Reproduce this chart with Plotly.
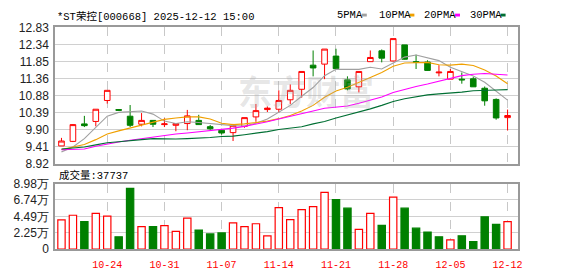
import plotly.graph_objects as go

# ---------------- data ----------------
dates = ["10-20", "10-21", "10-22", "10-23", "10-24", "10-27", "10-28", "10-29", "10-30", "10-31",
         "11-03", "11-04", "11-05", "11-06", "11-07", "11-10", "11-11", "11-12", "11-13", "11-14",
         "11-17", "11-18", "11-19", "11-20", "11-21", "11-24", "11-25", "11-26", "11-27", "11-28",
         "12-01", "12-02", "12-03", "12-04", "12-05", "12-08", "12-09", "12-10", "12-11", "12-12"]
tick_labels = ["10-24", "10-31", "11-07", "11-14", "11-21", "11-28", "12-05", "12-12"]

open_ = [9.44, 9.57, 10.07, 10.14, 10.74, 10.48, 10.29, 10.06, 10.17, 10.05,
         10.03, 10.08, 10.17, 9.99, 9.89, 9.82, 10.00, 10.27, 10.48, 10.49,
         10.76, 11.06, 11.75, 11.78, 12.01, 11.33, 11.13, 11.85, 12.16, 11.87,
         12.33, 11.85, 11.84, 11.53, 11.35, 11.35, 11.36, 11.09, 10.77, 10.25]
high = [9.67, 10.06, 10.30, 10.49, 11.03, 10.49, 10.61, 10.38, 10.17, 10.23,
        10.08, 10.47, 10.33, 10.04, 9.93, 10.07, 10.25, 10.64, 10.57, 11.03,
        11.20, 11.57, 12.17, 12.21, 12.22, 11.43, 11.57, 12.17, 12.20, 12.51,
        12.33, 12.05, 11.89, 11.75, 11.64, 11.54, 11.41, 11.14, 10.80, 10.48]
low = [9.44, 9.55, 9.98, 10.00, 10.65, 10.45, 9.98, 10.00, 9.98, 9.98,
       9.86, 9.89, 10.05, 9.90, 9.76, 9.58, 9.96, 10.13, 10.41, 10.39,
       10.64, 10.82, 11.43, 11.35, 11.64, 11.03, 10.97, 11.85, 11.83, 11.86,
       11.91, 11.64, 11.59, 11.43, 11.35, 11.22, 11.13, 10.59, 10.19, 9.88]
close = [9.58, 10.05, 10.02, 10.49, 11.03, 10.46, 10.03, 10.17, 10.06, 10.07,
         10.08, 10.30, 10.05, 9.93, 9.81, 10.03, 10.25, 10.45, 10.52, 10.74,
         11.03, 11.57, 11.67, 12.21, 11.65, 11.07, 11.57, 11.97, 11.95, 12.51,
         11.92, 11.83, 11.60, 11.55, 11.57, 11.33, 11.13, 10.73, 10.24, 10.31]
prev_close = 9.45

ma5 = [9.27, 9.41, 9.65, 9.96, 10.29, 10.40, 10.41, 10.44, 10.35, 10.15,
       10.08, 10.13, 10.11, 10.08, 10.03, 10.02, 10.01, 10.09, 10.21, 10.40,
       10.60, 10.86, 11.11, 11.45, 11.63, 11.63, 11.63, 11.69, 11.64, 11.81,
       11.98, 12.04, 11.96, 11.88, 11.69, 11.57, 11.44, 11.26, 11.00, 10.75]
ma10 = [9.34, 9.40, 9.48, 9.62, 9.78, 9.87, 9.95, 10.04, 10.13, 10.20,
        10.24, 10.27, 10.27, 10.21, 10.09, 10.05, 10.07, 10.10, 10.15, 10.22,
        10.31, 10.44, 10.60, 10.83, 11.01, 11.12, 11.25, 11.40, 11.54, 11.72,
        11.81, 11.83, 11.83, 11.76, 11.75, 11.78, 11.74, 11.61, 11.44, 11.22]
ma20 = [9.33, 9.34, 9.35, 9.43, 9.50, 9.55, 9.60, 9.65, 9.70, 9.74,
        9.78, 9.81, 9.84, 9.87, 9.91, 9.95, 10.00, 10.06, 10.13, 10.21,
        10.28, 10.35, 10.44, 10.52, 10.55, 10.58, 10.66, 10.75, 10.84, 10.97,
        11.06, 11.14, 11.21, 11.29, 11.38, 11.45, 11.49, 11.51, 11.49, 11.47]
ma30 = [9.35, 9.38, 9.41, 9.47, 9.53, 9.56, 9.60, 9.62, 9.65, 9.64,
        9.64, 9.65, 9.66, 9.68, 9.71, 9.72, 9.76, 9.80, 9.85, 9.91,
        9.95, 9.99, 10.07, 10.14, 10.24, 10.32, 10.41, 10.50, 10.60, 10.71,
        10.79, 10.85, 10.90, 10.93, 10.95, 10.98, 11.02, 11.04, 11.04, 11.05]

volume = [39900, 46400, 37700, 49000, 45100, 16900, 83300, 30800, 30800, 32100,
          24300, 42500, 26000, 20800, 22100, 36000, 30800, 34700, 18200, 56800,
          40300, 54200, 58100, 77700, 67700, 56000, 26900, 49000, 32500, 71100,
          56000, 28600, 23400, 16900, 12600, 18200, 10400, 44300, 33800, 37737]

price_ticks = [12.83, 12.34, 11.85, 11.36, 10.88, 10.39, 9.90, 9.41, 8.92]
vol_ticks = [0, 22450, 44900, 67350, 89800]
vol_tick_text = ["0", "2.25万", "4.49万", "6.74万", "8.98万"]

title_text = "*ST荣控[000668] 2025-12-12 15:00"
ma_names = ["5PMA", "10PMA", "20PMA", "30PMA"]

# ---------------- styles ----------------
RED = "#ff0000"
GREEN = "#008000"
MA_COLORS = ["#a0a0a0", "#f0a000", "#ff00ff", "#006f33"]
W, H = 578, 276
X0, X1 = 55.5, 522.5
MAIN_TOP, MAIN_BOT = 21.5, 165.5
VOL_TOP, VOL_BOT = 186.0, 255.0
MONO = "Liberation Mono, Noto Sans CJK SC, monospace"
SANS = "Liberation Sans, Arial, sans-serif"


def px_x(v):
    return v / W


def px_y(v):
    return 1 - v / H


fig = go.Figure()

fig.add_trace(go.Candlestick(
    x=dates, open=open_, high=high, low=low, close=close,
    increasing=dict(line=dict(color=RED, width=1), fillcolor="#ffffff"),
    decreasing=dict(line=dict(color=GREEN, width=1), fillcolor=GREEN),
    whiskerwidth=0, showlegend=False, hoverinfo="skip", xaxis="x", yaxis="y"))

for name, series, col in zip(ma_names, [ma5, ma10, ma20, ma30], MA_COLORS):
    fig.add_trace(go.Scatter(x=dates, y=series, mode="lines", name=name,
                             line=dict(color=col, width=1.1), showlegend=False,
                             hoverinfo="skip", xaxis="x", yaxis="y"))

prevs = [prev_close] + close[:-1]
up = [c >= p for c, p in zip(close, prevs)]
fig.add_trace(go.Bar(
    x=dates, y=volume, width=0.64,
    marker=dict(color=["#ffffff" if u else GREEN for u in up],
                line=dict(color=[RED if u else GREEN for u in up], width=1.2)),
    showlegend=False, hoverinfo="skip", xaxis="x2", yaxis="y2"))

xcommon = dict(type="category", categoryorder="array", categoryarray=dates,
               range=[-0.565, 39.91], tickvals=tick_labels, ticktext=tick_labels,
               showgrid=True, gridcolor="#c8c8c8", griddash="dash", gridwidth=1,
               showline=True, mirror=True, linecolor="#999999", linewidth=1.5,
               zeroline=False, ticks="", fixedrange=True)

fig.update_layout(
    width=W, height=H, margin=dict(l=0, r=0, t=0, b=0),
    paper_bgcolor="white", plot_bgcolor="white", showlegend=False,
    xaxis=dict(**xcommon, domain=[px_x(X0), px_x(X1)], anchor="y",
               showticklabels=False, rangeslider=dict(visible=False)),
    yaxis=dict(domain=[px_y(MAIN_BOT), px_y(MAIN_TOP)], anchor="x",
               range=[8.92, 12.83], tickvals=price_ticks,
               ticktext=["%.2f" % v for v in price_ticks],
               tickfont=dict(family=SANS, size=12, color="#222222"),
               showgrid=True, gridcolor="#d0d0d0", gridwidth=1,
               showline=True, mirror=True, linecolor="#999999", linewidth=1.5,
               zeroline=False, ticks="", ticklabelstandoff=2),
    xaxis2=dict(**xcommon, domain=[px_x(X0), px_x(X1)], anchor="y2",
                showticklabels=True,
                tickfont=dict(family=MONO, size=10, color=RED),
                ticklabelstandoff=5),
    yaxis2=dict(domain=[px_y(VOL_BOT), px_y(VOL_TOP)], anchor="x2",
                range=[0, 89800], tickvals=vol_ticks, ticktext=vol_tick_text,
                tickfont=dict(family=SANS, size=12, color="#222222"),
                showgrid=True, gridcolor="#d0d0d0", gridwidth=1,
                showline=True, mirror=True, linecolor="#999999", linewidth=1.5,
                zeroline=False, ticks="", ticklabelstandoff=2),
)

annotations = [
    dict(text=title_text, x=px_x(55), y=px_y(9.5), xref="paper", yref="paper",
         xanchor="left", yanchor="middle", showarrow=False,
         font=dict(family=MONO, size=10.5, color="#000000")),
    dict(text="成交量:%d" % volume[-1], x=px_x(57), y=px_y(177), xref="paper", yref="paper",
         xanchor="left", yanchor="middle", showarrow=False,
         font=dict(family=MONO, size=10.5, color="#000000")),
    dict(text="<b>东方财富</b>", x=px_x(309), y=px_y(88), xref="paper", yref="paper",
         xanchor="center", yanchor="middle", showarrow=False,
         font=dict(family="Noto Sans CJK SC", size=34, color="rgba(170,170,170,0.3)")),
]
shapes = []
leg_x = [338, 380, 426, 472]
sq_x = [365, 413, 459, 505]
for name, lx, sx, col in zip(ma_names, leg_x, sq_x, MA_COLORS):
    annotations.append(dict(text=name, x=px_x(lx), y=px_y(8.5), xref="paper", yref="paper",
                            xanchor="left", yanchor="middle", showarrow=False,
                            font=dict(family=MONO, size=10.5, color="#000000")))
    shapes.append(dict(type="rect", xref="paper", yref="paper",
                       x0=px_x(sx), x1=px_x(sx + 5), y0=px_y(10), y1=px_y(7),
                       fillcolor=col, line=dict(width=0)))

fig.update_layout(annotations=annotations, shapes=shapes)

fig.write_html("out.html")
